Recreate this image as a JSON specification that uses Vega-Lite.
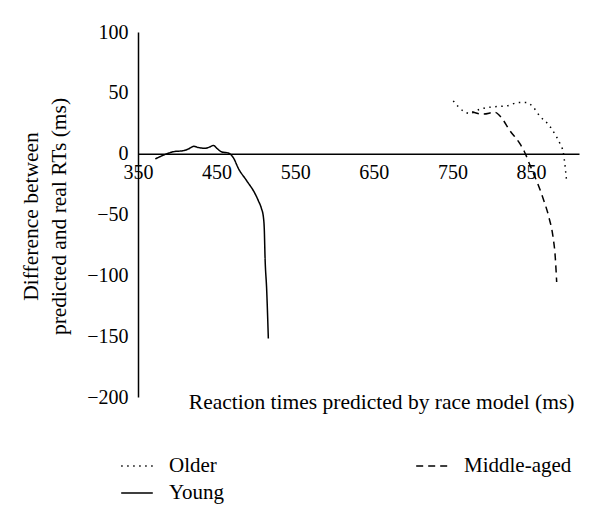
{
  "$schema": "https://vega.github.io/schema/vega-lite/v6.json",
  "width": 441,
  "height": 365,
  "autosize": {"type": "none"},
  "padding": {"left": 138, "top": 32, "right": 21, "bottom": 130},
  "background": "white",
  "config": {"view": {"stroke": null}, "font": "Liberation Serif"},
  "data": {
    "values": [
      {"group": "Young", "rt": 372, "diff": -4.3},
      {"group": "Young", "rt": 384, "diff": -0.8},
      {"group": "Young", "rt": 395, "diff": 1.6},
      {"group": "Young", "rt": 408, "diff": 2.5},
      {"group": "Young", "rt": 414, "diff": 3.8},
      {"group": "Young", "rt": 421, "diff": 6},
      {"group": "Young", "rt": 427, "diff": 5},
      {"group": "Young", "rt": 435, "diff": 4.4},
      {"group": "Young", "rt": 442, "diff": 5.7},
      {"group": "Young", "rt": 446, "diff": 6.8},
      {"group": "Young", "rt": 450, "diff": 4.6},
      {"group": "Young", "rt": 456, "diff": 1.6},
      {"group": "Young", "rt": 465, "diff": 0.5},
      {"group": "Young", "rt": 471, "diff": -3},
      {"group": "Young", "rt": 478, "diff": -12.5},
      {"group": "Young", "rt": 488, "diff": -22},
      {"group": "Young", "rt": 499, "diff": -33},
      {"group": "Young", "rt": 503, "diff": -38.5},
      {"group": "Young", "rt": 507, "diff": -45},
      {"group": "Young", "rt": 509.5, "diff": -52},
      {"group": "Young", "rt": 510.7, "diff": -63},
      {"group": "Young", "rt": 511.6, "diff": -85},
      {"group": "Young", "rt": 513.7, "diff": -112},
      {"group": "Young", "rt": 515.8, "diff": -152},
      {"group": "Older", "rt": 751, "diff": 43.4},
      {"group": "Older", "rt": 764, "diff": 35},
      {"group": "Older", "rt": 772, "diff": 33},
      {"group": "Older", "rt": 785, "diff": 36.6},
      {"group": "Older", "rt": 802, "diff": 38.5},
      {"group": "Older", "rt": 819, "diff": 39.3},
      {"group": "Older", "rt": 834, "diff": 42},
      {"group": "Older", "rt": 844.5, "diff": 42},
      {"group": "Older", "rt": 853, "diff": 38},
      {"group": "Older", "rt": 861, "diff": 31},
      {"group": "Older", "rt": 872, "diff": 24},
      {"group": "Older", "rt": 880.5, "diff": 16},
      {"group": "Older", "rt": 887, "diff": 8},
      {"group": "Older", "rt": 891, "diff": 1},
      {"group": "Older", "rt": 893, "diff": -8.5},
      {"group": "Older", "rt": 895, "diff": -21},
      {"group": "Middle-aged", "rt": 775, "diff": 34.5},
      {"group": "Middle-aged", "rt": 789, "diff": 32.5},
      {"group": "Middle-aged", "rt": 804, "diff": 34},
      {"group": "Middle-aged", "rt": 810.5, "diff": 31},
      {"group": "Middle-aged", "rt": 823, "diff": 19},
      {"group": "Middle-aged", "rt": 836, "diff": 8},
      {"group": "Middle-aged", "rt": 842, "diff": 1},
      {"group": "Middle-aged", "rt": 849, "diff": -10},
      {"group": "Middle-aged", "rt": 857.5, "diff": -23},
      {"group": "Middle-aged", "rt": 866, "diff": -38},
      {"group": "Middle-aged", "rt": 873, "diff": -53},
      {"group": "Middle-aged", "rt": 878, "diff": -68.6},
      {"group": "Middle-aged", "rt": 880.8, "diff": -85},
      {"group": "Middle-aged", "rt": 882.6, "diff": -105.5}
    ]
  },
  "mark": {"type": "line", "color": "black", "strokeWidth": 1.5, "interpolate": "monotone"},
  "encoding": {
    "x": {
      "field": "rt",
      "type": "quantitative",
      "scale": {"domain": [350, 911], "nice": false, "zero": false},
      "axis": {
        "values": [350, 450, 550, 650, 750, 850],
        "ticks": false,
        "grid": false,
        "offset": -243.3,
        "domainColor": "black",
        "domainWidth": 1.5,
        "labelFlush": false,
        "labelOverlap": false,
        "labelPadding": 9,
        "labelFontSize": 20,
        "labelColor": "black",
        "labelFont": "Liberation Serif",
        "title": "Reaction times predicted by race model (ms)",
        "titleFont": "Liberation Serif",
        "titleFontSize": 21.5,
        "titleFontWeight": "normal",
        "titleColor": "black",
        "titleX": 436,
        "titleY": 255,
        "titleAlign": "right",
        "titleBaseline": "alphabetic"
      }
    },
    "y": {
      "field": "diff",
      "type": "quantitative",
      "scale": {"domain": [-200, 100], "nice": false},
      "axis": {
        "values": [100, 50, 0, -50, -100, -150, -200],
        "ticks": false,
        "grid": false,
        "domainColor": "black",
        "domainWidth": 1.5,
        "labelPadding": 10,
        "labelFontSize": 20,
        "labelColor": "black",
        "labelFont": "Liberation Serif",
        "labelOverlap": false,
        "title": ["Difference between", "predicted and real RTs (ms)"],
        "titleFont": "Liberation Serif",
        "titleFontSize": 21.5,
        "titleFontWeight": "normal",
        "titleColor": "black",
        "titleAngle": -90,
        "titleX": -101,
        "titleY": 184,
        "titleAlign": "center",
        "titleBaseline": "alphabetic",
        "titleLineHeight": 28
      }
    },
    "strokeDash": {
      "field": "group",
      "type": "nominal",
      "scale": {"domain": ["Older", "Young", "Middle-aged"], "range": [[1.5, 4.5], [1, 0], [7, 5]]},
      "legend": {
        "orient": "none",
        "legendX": -18,
        "legendY": 417,
        "title": null,
        "columns": 2,
        "columnPadding": 188,
        "rowPadding": -5,
        "symbolType": "stroke",
        "symbolSize": 1000,
        "symbolStrokeWidth": 1.5,
        "symbolStrokeColor": "black",
        "labelOffset": 15,
        "labelFontSize": 21,
        "labelFont": "Liberation Serif",
        "labelColor": "black"
      }
    }
  }
}
